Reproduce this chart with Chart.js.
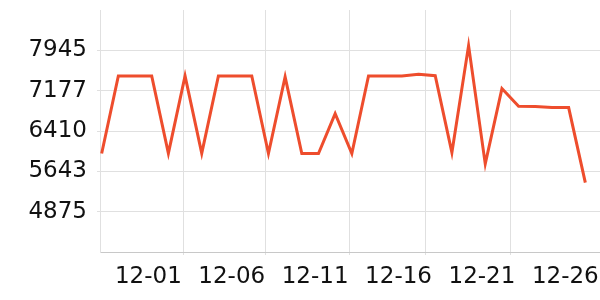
<!DOCTYPE html>
<html>
<head>
<meta charset="utf-8">
<script src="https://cdn.jsdelivr.net/npm/chart.js@4.4.0/dist/chart.umd.min.js"></script>
<style>
    body { margin: 0; background: #fff; }
    #chart { display: block; }
</style>
</head>
<body>
<canvas id="chart" width="600" height="300"></canvas>
<script>
// Daily values
const dates = ['11-28', '11-29', '11-30', '12-01', '12-02', '12-03', '12-04', '12-05', '12-06', '12-07',
               '12-08', '12-09', '12-10', '12-11', '12-12', '12-13', '12-14', '12-15', '12-16', '12-17',
               '12-18', '12-19', '12-20', '12-21', '12-22', '12-23', '12-24', '12-25', '12-26', '12-27'];
const values = [5982, 7457, 7457, 7457, 5985, 7457, 5985, 7457, 7457, 7457,
                5982, 7440, 5982, 5982, 6742, 5982, 7457, 7457, 7457, 7488,
                7462, 6000, 8035, 5785, 7217, 6880, 6878, 6858, 6856, 5428];

// Axis ticks
const xTickLabels = ['12-01', '12-06', '12-11', '12-16', '12-21', '12-26'];
const yTickValues = [4875, 5642.5, 6410, 7177.5, 7945];
const yTickLabels = ['4875', '5643', '6410', '7177', '7945'];
const yMin = 4107.5;
const yMax = 8712.5;

// vertical grid lines (in day units)
const gridTicks = [4.9, 9.85, 14.85, 19.4, 24.5];
const labelShift = -0.2;

const labelTicks = xTickLabels.map(l => dates.indexOf(l) + labelShift);
const gridColor = '#e0e0e0';

function isGridTick(v) {
    return gridTicks.some(g => Math.abs(g - v) < 1e-6);
}

new Chart(document.getElementById('chart').getContext('2d'), {
    type: 'line',
    data: {
        datasets: [{
            data: values.map((v, i) => ({ x: i, y: v })),
            borderColor: '#ee4d2d',
            borderWidth: 3,
            pointRadius: 0,
            tension: 0,
            fill: false
        }]
    },
    options: {
        responsive: false,
        animation: false,
        layout: { padding: { top: 10, left: 0, right: 0, bottom: 0 } },
        plugins: {
            legend: { display: false },
            tooltip: { enabled: false }
        },
        scales: {
            x: {
                type: 'linear',
                min: -0.1,
                max: 29.88,
                afterBuildTicks: scale => {
                    scale.ticks = [...gridTicks, ...labelTicks].sort((a, b) => a - b).map(v => ({ value: v }));
                },
                afterFit: scale => {
                    scale.height = 48;
                    scale.paddingLeft = 0;
                    scale.paddingRight = 0;
                },
                grid: {
                    color: ctx => (ctx.tick && isGridTick(ctx.tick.value)) ? gridColor : 'rgba(0,0,0,0)',
                    tickColor: ctx => (ctx.tick && isGridTick(ctx.tick.value)) ? gridColor : 'rgba(0,0,0,0)',
                    tickLength: 3
                },
                border: { color: '#c8c8c8', width: 1 },
                ticks: {
                    autoSkip: false,
                    maxRotation: 0,
                    padding: 8,
                    color: '#111',
                    font: { family: 'DejaVu Sans', size: 23 },
                    callback: value => {
                        const idx = labelTicks.findIndex(t => Math.abs(t - value) < 1e-6);
                        return idx >= 0 ? xTickLabels[idx] : '';
                    }
                }
            },
            y: {
                min: yMin,
                max: yMax,
                afterBuildTicks: scale => {
                    scale.ticks = yTickValues.map(v => ({ value: v }));
                },
                afterFit: scale => {
                    scale.width = 100;
                    scale.paddingTop = 0;
                    scale.paddingBottom = 0;
                },
                grid: {
                    color: gridColor,
                    tickLength: 3
                },
                border: { color: gridColor, width: 1 },
                ticks: {
                    padding: 10,
                    color: '#111',
                    font: { family: 'DejaVu Sans', size: 23 },
                    callback: (value, index) => yTickLabels[index]
                }
            }
        }
    }
});
</script>
</body>
</html>
